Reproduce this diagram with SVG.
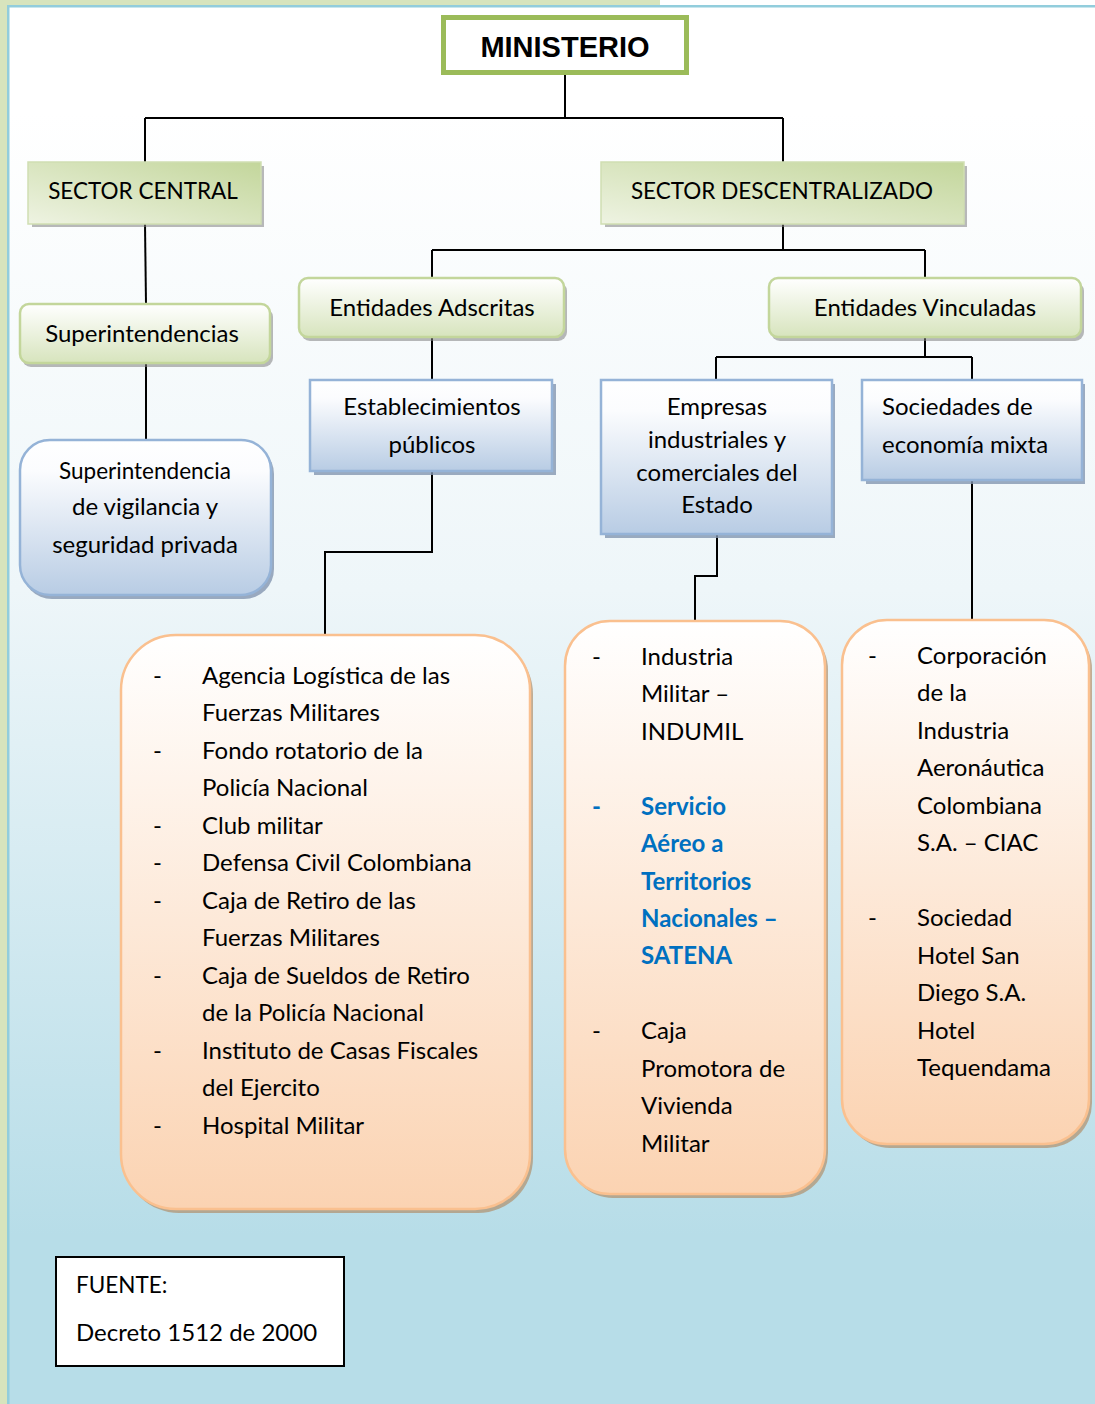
<svg xmlns="http://www.w3.org/2000/svg" width="1095" height="1404" viewBox="0 0 1095 1404">
<defs>
<linearGradient id="bg" x1="0" y1="0" x2="0" y2="1">
<stop offset="0" stop-color="#ffffff"/>
<stop offset="0.08" stop-color="#ffffff"/>
<stop offset="0.42" stop-color="#eef6f9"/>
<stop offset="0.88" stop-color="#b7dde8"/>
<stop offset="1" stop-color="#b7dde8"/>
</linearGradient>
<linearGradient id="gdiag" x1="1" y1="0" x2="0" y2="1">
<stop offset="0" stop-color="#c3d69b"/>
<stop offset="1" stop-color="#eef3e2"/>
</linearGradient>
<linearGradient id="gvert" x1="0" y1="0" x2="0" y2="1">
<stop offset="0" stop-color="#ffffff"/>
<stop offset="1" stop-color="#d7e4bd"/>
</linearGradient>
<linearGradient id="bvert" x1="0" y1="0" x2="0" y2="1">
<stop offset="0" stop-color="#ffffff"/>
<stop offset="0.2" stop-color="#fbfcfe"/>
<stop offset="1" stop-color="#b8cce4"/>
</linearGradient>
<linearGradient id="overt" x1="0" y1="0" x2="0" y2="1">
<stop offset="0" stop-color="#ffffff"/>
<stop offset="1" stop-color="#fbd3b2"/>
</linearGradient>
<style>
.t{font-family:Lato,"Open Sans","Liberation Sans",sans-serif;font-size:24px;fill:#000}
.u{font-size:22.5px}
.c{text-anchor:middle}
.b{font-weight:bold;fill:#0070c0}
.ln{fill:none;stroke:#000;stroke-width:2}
.sh{fill:#7f7f7f;opacity:0.55}
.shb{fill:#8396b0;opacity:0.8}
.sho{fill:#b0906c;opacity:0.7}
.gsq{fill:url(#gdiag);stroke:#d0deb2;stroke-width:1.5}
.grd{fill:url(#gvert);stroke:#c3d69b;stroke-width:2.5}
.blu{fill:url(#bvert);stroke:#95b3d7;stroke-width:2.5}
.org{fill:url(#overt);stroke:#fac08f;stroke-width:2.5}
</style>
</defs>
<rect x="0" y="0" width="1095" height="1404" fill="url(#bg)"/>
<rect x="0" y="0" width="8" height="1404" fill="#d7e4bd"/>
<rect x="0" y="0" width="660" height="5" fill="#d7e4bd"/>
<rect x="7" y="5" width="2.5" height="1399" fill="#92cddc"/>
<rect x="7" y="5" width="1088" height="2.5" fill="#92cddc"/>

<g id="connectors">
<path class="ln" d="M565 75 V118 M145 118 H783 M145 118 V162 M783 118 V162"/>
<path class="ln" d="M145 224 L146 304"/>
<path class="ln" d="M783 224 V250 M432 250 H925 M432 250 V278 M925 250 V278"/>
<path class="ln" d="M146 364 V440"/>
<path class="ln" d="M432 338 V380"/>
<path class="ln" d="M432 472 V552 H325 V635"/>
<path class="ln" d="M925 338 V357 M716 357 H972 M716 357 V380 M972 357 V380"/>
<path class="ln" d="M717 535 V576 H695 V621"/>
<path class="ln" d="M972 481 V620"/>
</g>

<g id="ministerio">
<rect x="443.5" y="17.5" width="243" height="55" fill="#ffffff" stroke="#9bbb59" stroke-width="5"/>
<text x="565" y="57" text-anchor="middle" style="font-family:'Liberation Sans',Arial,sans-serif;font-weight:bold;font-size:29px">MINISTERIO</text>
</g>

<g id="sector-central">
<rect class="sh" x="32" y="166" width="232" height="61"/>
<rect class="gsq" x="28" y="162" width="233" height="62"/>
<text class="t u c" x="143" y="199">SECTOR CENTRAL</text>
</g>

<g id="sector-descentralizado">
<rect class="sh" x="605" y="166" width="362" height="61"/>
<rect class="gsq" x="601" y="162" width="363" height="62"/>
<text class="t u c" x="782" y="199">SECTOR DESCENTRALIZADO</text>
</g>

<g id="superintendencias">
<rect class="sh" x="22" y="308" width="251" height="59" rx="9"/>
<rect class="grd" x="20" y="304" width="250" height="59" rx="9"/>
<text class="t c" x="142" y="342">Superintendencias</text>
</g>

<g id="entidades-adscritas">
<rect class="sh" x="301" y="282" width="266" height="59" rx="9"/>
<rect class="grd" x="299" y="278" width="265" height="59" rx="9"/>
<text class="t c" x="432" y="316">Entidades Adscritas</text>
</g>

<g id="entidades-vinculadas">
<rect class="sh" x="771" y="282" width="313" height="59" rx="9"/>
<rect class="grd" x="769" y="278" width="312" height="59" rx="9"/>
<text class="t c" x="925" y="316">Entidades Vinculadas</text>
</g>

<g id="superintendencia-vigilancia">
<rect class="shb" x="22" y="444" width="252" height="155" rx="30"/>
<rect class="blu" x="20" y="440" width="251" height="155" rx="30"/>
<text class="t u c" x="145" y="479">Superintendencia</text>
<text class="t c" x="145" y="515">de vigilancia y</text>
<text class="t c" x="145" y="553">seguridad privada</text>
</g>

<g id="establecimientos">
<rect class="shb" x="314" y="384" width="242" height="91"/>
<rect class="blu" x="310" y="380" width="242" height="91"/>
<text class="t c" x="432" y="415">Establecimientos</text>
<text class="t c" x="432" y="453">públicos</text>
</g>

<g id="empresas">
<rect class="shb" x="605" y="384" width="230" height="154"/>
<rect class="blu" x="601" y="380" width="231" height="154"/>
<text class="t c" x="717" y="415">Empresas</text>
<text class="t c" x="717" y="448">industriales y</text>
<text class="t c" x="717" y="481">comerciales del</text>
<text class="t c" x="717" y="513">Estado</text>
</g>

<g id="sociedades">
<rect class="shb" x="866" y="384" width="219" height="100"/>
<rect class="blu" x="862" y="380" width="220" height="100"/>
<text class="t" x="882" y="415">Sociedades de</text>
<text class="t" x="882" y="453">economía mixta</text>
</g>

<g id="lista-adscritas">
<rect class="sho" x="124" y="639" width="409" height="574" rx="55"/>
<rect class="org" x="121" y="635" width="409" height="574" rx="55"/>
<g class="t">
<text x="153" y="684">-</text><text x="202" y="684">Agencia Logística de las</text>
<text x="202" y="721">Fuerzas Militares</text>
<text x="153" y="759">-</text><text x="202" y="759">Fondo rotatorio de la</text>
<text x="202" y="796">Policía Nacional</text>
<text x="153" y="834">-</text><text x="202" y="834">Club militar</text>
<text x="153" y="871">-</text><text x="202" y="871">Defensa Civil Colombiana</text>
<text x="153" y="909">-</text><text x="202" y="909">Caja de Retiro de las</text>
<text x="202" y="946">Fuerzas Militares</text>
<text x="153" y="984">-</text><text x="202" y="984">Caja de Sueldos de Retiro</text>
<text x="202" y="1021">de la Policía Nacional</text>
<text x="153" y="1059">-</text><text x="202" y="1059">Instituto de Casas Fiscales</text>
<text x="202" y="1096">del Ejercito</text>
<text x="153" y="1134">-</text><text x="202" y="1134">Hospital Militar</text>
</g>
</g>

<g id="lista-empresas">
<rect class="sho" x="568" y="625" width="260" height="573" rx="45"/>
<rect class="org" x="565" y="621" width="260" height="573" rx="45"/>
<g class="t">
<text x="592" y="665">-</text><text x="641" y="665">Industria</text>
<text x="641" y="702">Militar –</text>
<text x="641" y="740">INDUMIL</text>
<text x="592" y="815" class="b">-</text><text x="641" y="815" class="b">Servicio</text>
<text x="641" y="852" class="b">Aéreo a</text>
<text x="641" y="890" class="b">Territorios</text>
<text x="641" y="927" class="b">Nacionales –</text>
<text x="641" y="964" class="b">SATENA</text>
<text x="592" y="1039">-</text><text x="641" y="1039">Caja</text>
<text x="641" y="1077">Promotora de</text>
<text x="641" y="1114">Vivienda</text>
<text x="641" y="1152">Militar</text>
</g>
</g>

<g id="lista-sociedades">
<rect class="sho" x="845" y="624" width="247" height="524" rx="45"/>
<rect class="org" x="842" y="620" width="247" height="524" rx="45"/>
<g class="t">
<text x="868" y="664">-</text><text x="917" y="664">Corporación</text>
<text x="917" y="701">de la</text>
<text x="917" y="739">Industria</text>
<text x="917" y="776">Aeronáutica</text>
<text x="917" y="814">Colombiana</text>
<text x="917" y="851">S.A. – CIAC</text>
<text x="868" y="926">-</text><text x="917" y="926">Sociedad</text>
<text x="917" y="964">Hotel San</text>
<text x="917" y="1001">Diego S.A.</text>
<text x="917" y="1039">Hotel</text>
<text x="917" y="1076">Tequendama</text>
</g>
</g>

<g id="fuente">
<rect x="56" y="1257" width="288" height="109" fill="#ffffff" stroke="#000" stroke-width="2"/>
<text class="t u" x="76" y="1293">FUENTE:</text>
<text class="t" x="76" y="1341">Decreto 1512 de 2000</text>
</g>
</svg>
